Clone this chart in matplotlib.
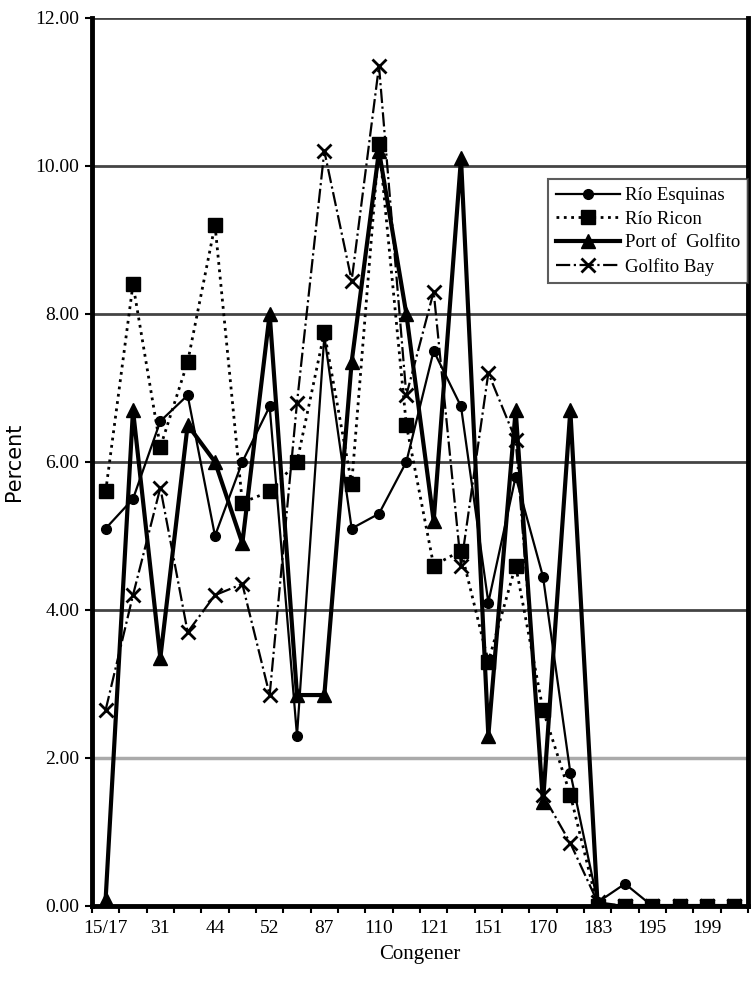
import numpy as np
import matplotlib
matplotlib.use("Agg")
from matplotlib import pyplot as plt
from matplotlib.ticker import FixedLocator, FormatStrFormatter

# congener categories (only every other one is labelled on the axis)
congeners = ["15/17", "", "31", "", "44", "", "52", "", "87", "", "110", "",
             "121", "", "151", "", "170", "", "183", "", "195", "", "199", ""]

rio_esquinas = [5.1, 5.5, 6.55, 6.9, 5.0, 6.0, 6.75, 2.3, 7.7, 5.1, 5.3, 6.0,
                7.5, 6.75, 4.1, 5.8, 4.45, 1.8, 0.05, 0.3, 0.0, 0.0, 0.0, 0.0]
rio_ricon = [5.6, 8.4, 6.2, 7.35, 9.2, 5.45, 5.6, 6.0, 7.75, 5.7, 10.3, 6.5,
             4.6, 4.8, 3.3, 4.6, 2.65, 1.5, 0.0, 0.0, 0.0, 0.0, 0.0, 0.0]
port_golfito = [0.1, 6.7, 3.35, 6.5, 6.0, 4.9, 8.0, 2.85, 2.85, 7.35, 10.2, 8.0,
                5.2, 10.1, 2.3, 6.7, 1.4, 6.7, 0.0, 0.0, 0.0, 0.0, 0.0, 0.0]
golfito_bay = [2.65, 4.2, 5.65, 3.7, 4.2, 4.35, 2.85, 6.8, 10.2, 8.45, 11.35, 6.9,
               8.3, 4.6, 7.2, 6.3, 1.5, 0.85, 0.05, 0.0, 0.0, 0.0, 0.0, 0.0]

x = np.arange(len(congeners))

plt.rcParams['font.family'] = ['Liberation Serif', 'DejaVu Serif']

fig = plt.figure(figsize=(7.51, 9.88), dpi=100)
ax = fig.add_axes([0.1225, 0.083, 0.8735, 0.899])

#gridlines first so the series sit on top
for val in [4, 6, 8, 10, 12]:
    ax.axhline(val, color='#444444', lw=2, zorder=1)
ax.axhline(2, color='#aaaaaa', lw=2.5, zorder=1)

ax.plot(x, rio_esquinas, '-', color='black', lw=1.6, marker='o', ms=7,
        label='Río Esquinas', zorder=4)
ax.plot(x, rio_ricon, ':', color='black', lw=2, marker='s', ms=10,
        label='Río Ricon', zorder=3)
ax.plot(x, port_golfito, '-', color='black', lw=3, marker='^', ms=10,
        label='Port of  Golfito', zorder=5)
ax.plot(x, golfito_bay, '-.', color='black', lw=1.6, marker='x', ms=10, mew=2,
        label='Golfito Bay', zorder=3)

ax.set_xlim(-0.5, len(congeners) - 0.5)
ax.set_ylim(0, 12)

ax.xaxis.set_major_locator(FixedLocator(x))
ax.set_xticklabels(congeners, fontsize=14)
ax.tick_params(axis='x', which='major', length=0, pad=10)
ax.xaxis.set_minor_locator(FixedLocator(np.arange(-0.5, len(congeners), 1.0)))
ax.tick_params(axis='x', which='minor', length=5, width=1.5, direction='out')

ax.set_yticks(np.arange(0, 13, 2))
ax.yaxis.set_major_formatter(FormatStrFormatter('%.2f'))
ax.tick_params(axis='y', length=5, width=1.5, direction='out', labelsize=14, pad=4)

for side in ['left', 'bottom', 'right']:
    ax.spines[side].set_linewidth(3.5)
ax.spines['top'].set_visible(False)

ax.set_xlabel("Congener", fontsize=15, labelpad=6)
ax.set_ylabel("Percent", fontsize=15, family=['Liberation Sans Narrow', 'DejaVu Sans'],
              labelpad=8)

leg = ax.legend(loc='upper right', bbox_to_anchor=(1.0, 0.818), fontsize=13.5,
                frameon=True, fancybox=False, edgecolor='#333333', borderaxespad=0,
                handlelength=3.4, borderpad=0.4, labelspacing=0.35, handletextpad=0.3)
leg.get_frame().set_linewidth(1.5)

fig.savefig("out.png", dpi=100)
